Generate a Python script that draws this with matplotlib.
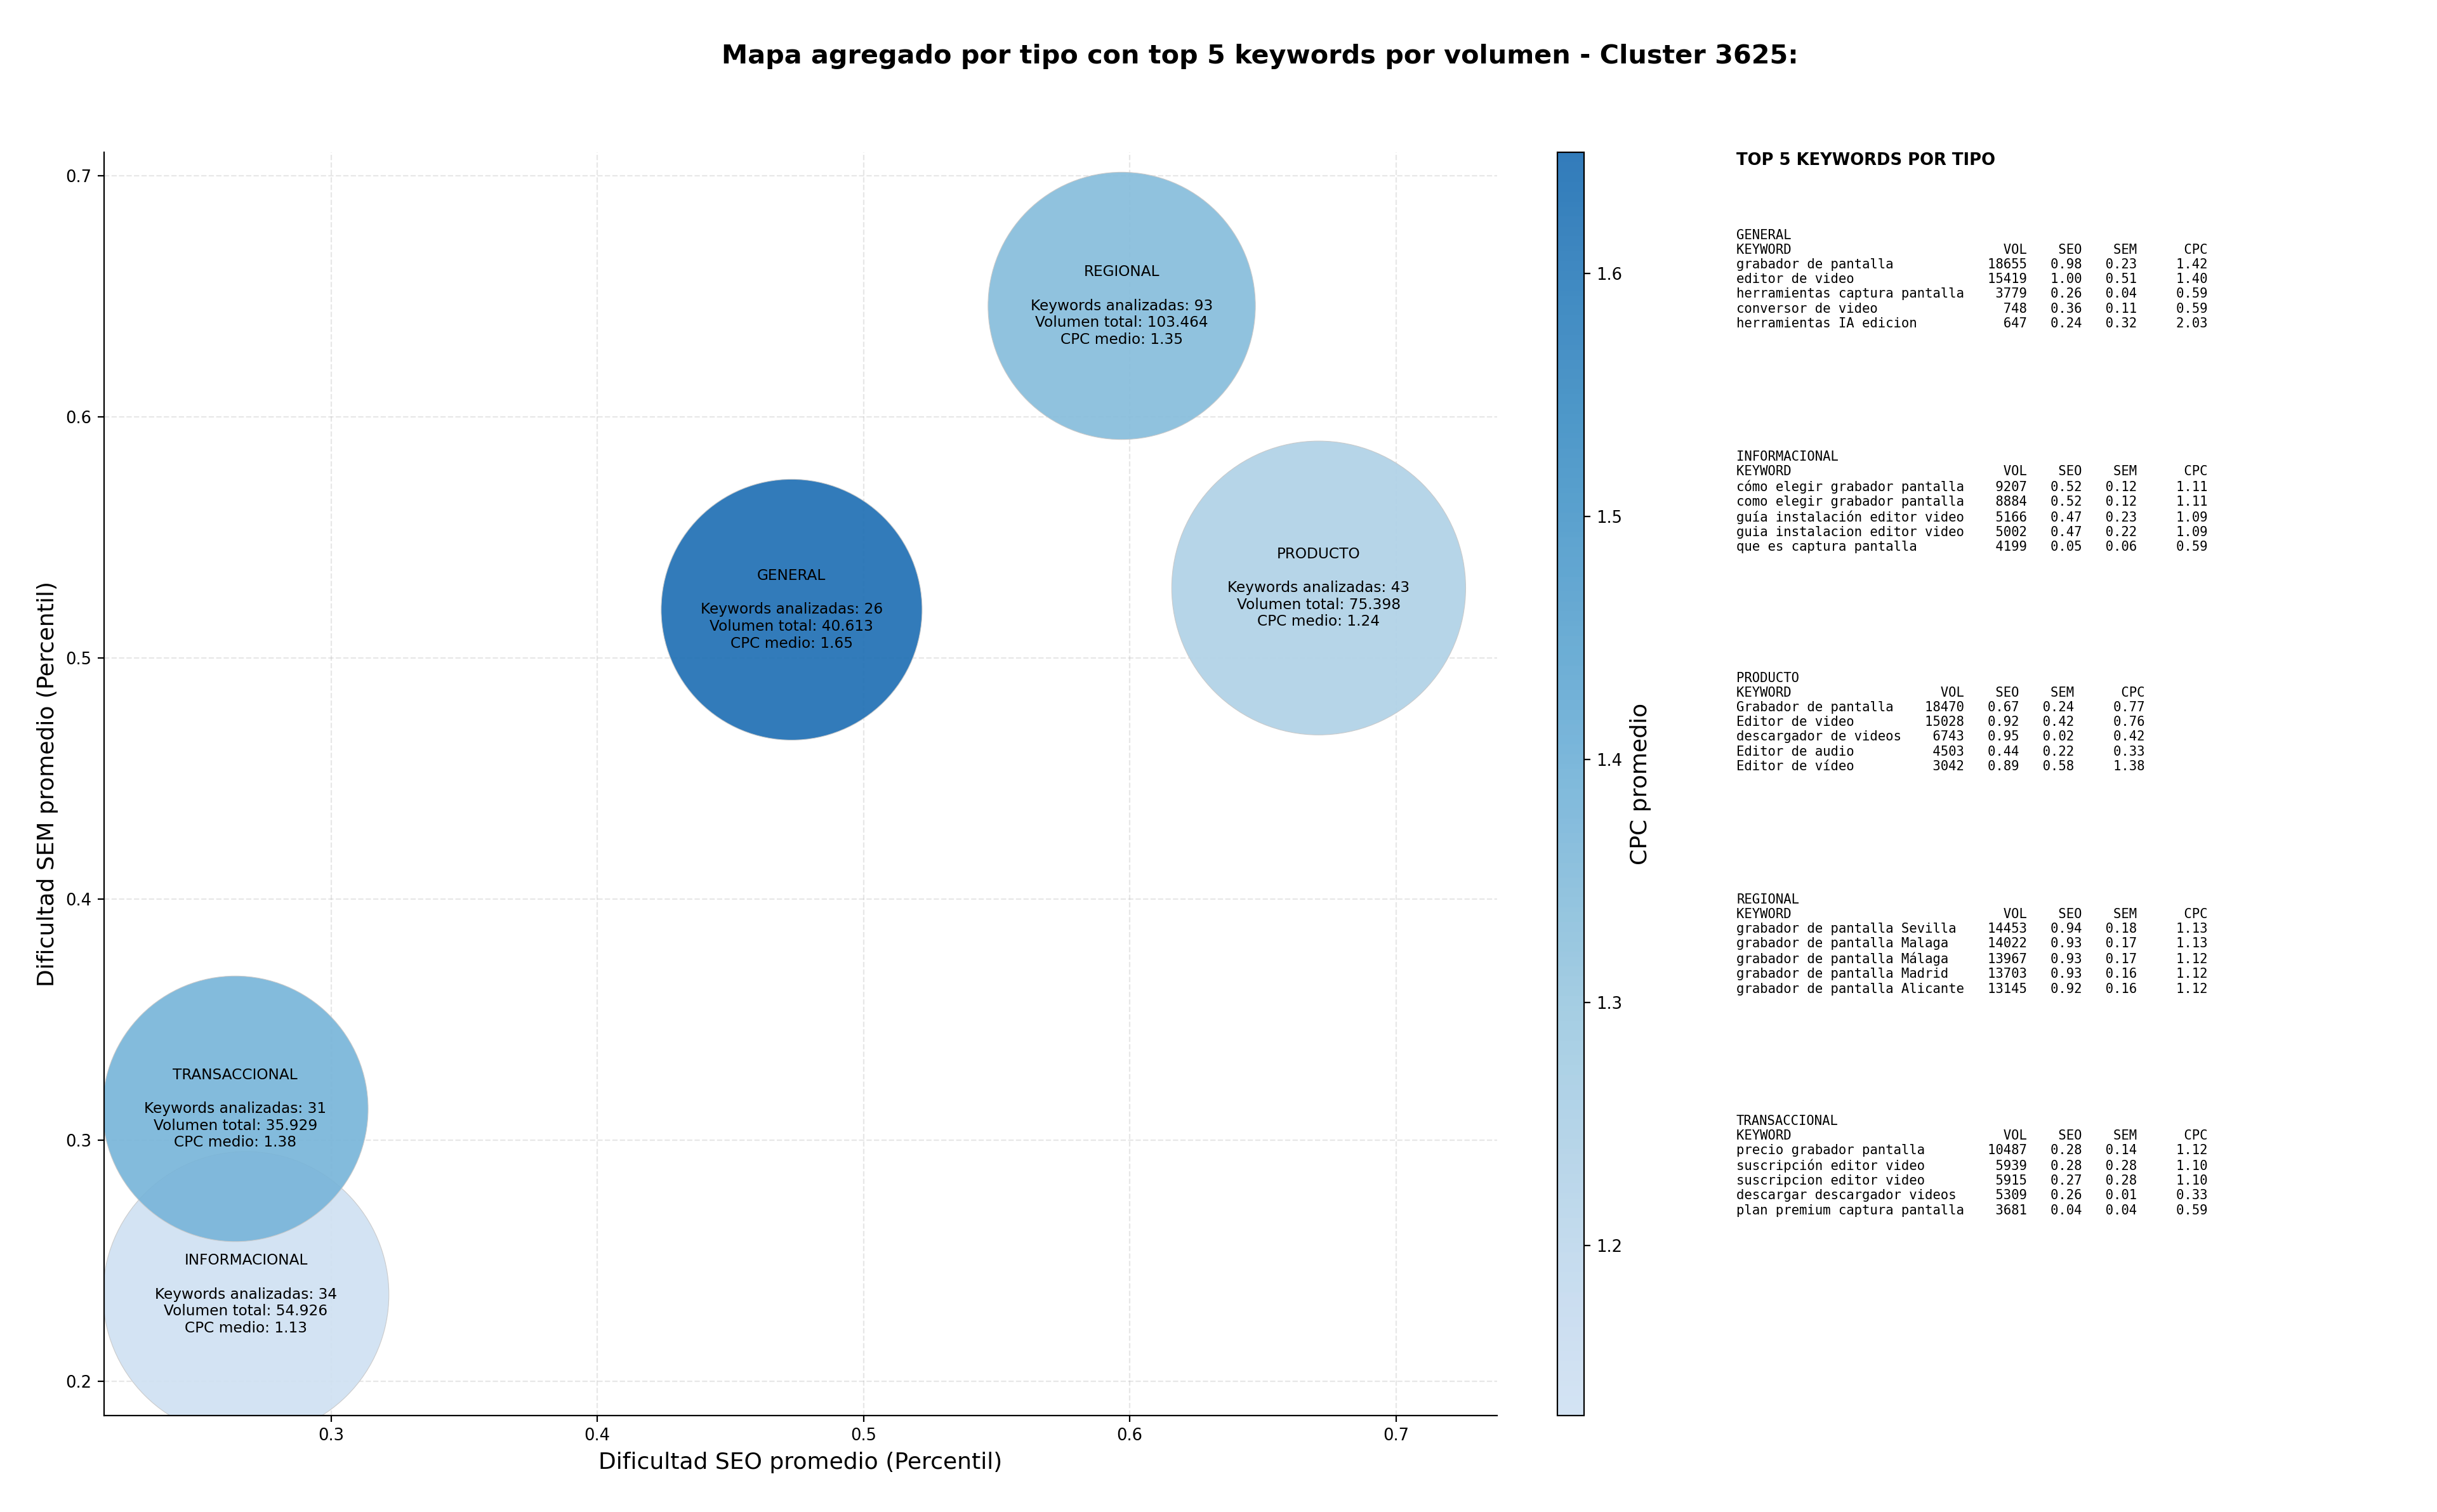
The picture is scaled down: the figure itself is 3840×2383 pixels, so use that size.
import numpy as np
import matplotlib as mpl
mpl.use('Agg')
import matplotlib.pyplot as plt
from matplotlib.colors import LinearSegmentedColormap, Normalize

# aggregated data per keyword type
tipos = ['GENERAL', 'INFORMACIONAL', 'PRODUCTO', 'REGIONAL', 'TRANSACCIONAL']
seo_avg = [0.473, 0.268, 0.671, 0.597, 0.264]
sem_avg = [0.520, 0.236, 0.529, 0.646, 0.313]
cpc_avg = [1.65, 1.13, 1.24, 1.35, 1.38]
n_keywords = [26, 34, 43, 93, 31]
vol_total = [40613, 54926, 75398, 103464, 35929]
bubble_area = [21900, 26300, 27800, 23000, 22700]

# top 5 keywords by volume: (keyword, vol, seo, sem, cpc)
top_general = [('grabador de pantalla', 18655, 0.98, 0.23, 1.42),
               ('editor de video', 15419, 1.00, 0.51, 1.40),
               ('herramientas captura pantalla', 3779, 0.26, 0.04, 0.59),
               ('conversor de video', 748, 0.36, 0.11, 0.59),
               ('herramientas IA edicion', 647, 0.24, 0.32, 2.03)]
top_informacional = [('cómo elegir grabador pantalla', 9207, 0.52, 0.12, 1.11),
                     ('como elegir grabador pantalla', 8884, 0.52, 0.12, 1.11),
                     ('guía instalación editor video', 5166, 0.47, 0.23, 1.09),
                     ('guia instalacion editor video', 5002, 0.47, 0.22, 1.09),
                     ('que es captura pantalla', 4199, 0.05, 0.06, 0.59)]
top_producto = [('Grabador de pantalla', 18470, 0.67, 0.24, 0.77),
                ('Editor de video', 15028, 0.92, 0.42, 0.76),
                ('descargador de videos', 6743, 0.95, 0.02, 0.42),
                ('Editor de audio', 4503, 0.44, 0.22, 0.33),
                ('Editor de vídeo', 3042, 0.89, 0.58, 1.38)]
top_regional = [('grabador de pantalla Sevilla', 14453, 0.94, 0.18, 1.13),
                ('grabador de pantalla Malaga', 14022, 0.93, 0.17, 1.13),
                ('grabador de pantalla Málaga', 13967, 0.93, 0.17, 1.12),
                ('grabador de pantalla Madrid', 13703, 0.93, 0.16, 1.12),
                ('grabador de pantalla Alicante', 13145, 0.92, 0.16, 1.12)]
top_transaccional = [('precio grabador pantalla', 10487, 0.28, 0.14, 1.12),
                     ('suscripción editor video', 5939, 0.28, 0.28, 1.10),
                     ('suscripcion editor video', 5915, 0.27, 0.28, 1.10),
                     ('descargar descargador videos', 5309, 0.26, 0.01, 0.33),
                     ('plan premium captura pantalla', 3681, 0.04, 0.04, 0.59)]
top_tables = [top_general, top_informacional, top_producto, top_regional,
              top_transaccional]


def fmtVol(v):
    return '{:,}'.format(v).replace(',', '.')


def blockText(tipo, rows):
    w = max(len(r[0]) for r in rows)
    lines = [tipo,
             f"{'KEYWORD':<{w}}{'VOL':>8}{'SEO':>7}{'SEM':>7}{'CPC':>9}"]
    for kw, vol, seo, sem, cpc in rows:
        lines.append(f"{kw:<{w}}{vol:>8}{seo:>7.2f}{sem:>7.2f}{cpc:>9.2f}")
    return '\n'.join(lines)


fig = plt.figure(figsize=(19.2, 11.915), dpi=200)
ax = fig.add_axes([0.0427, 0.0638, 0.5716, 0.8355])
cax = fig.add_axes([0.639, 0.0638, 0.011, 0.8355])

cmap = LinearSegmentedColormap.from_list(
    'bluesCut', plt.cm.Blues(np.linspace(0.2, 0.75, 256)))
norm = Normalize(vmin=min(cpc_avg), vmax=max(cpc_avg))

sc = ax.scatter(seo_avg, sem_avg, s=bubble_area, c=cpc_avg, cmap=cmap,
                norm=norm, alpha=0.92, edgecolors='#c8c8c8', linewidths=0.4,
                zorder=2)

for i, t in enumerate(tipos):
    label = (f"{t}\n\nKeywords analizadas: {n_keywords[i]}\n"
             f"Volumen total: {fmtVol(vol_total[i])}\nCPC medio: {cpc_avg[i]:.2f}")
    ax.text(seo_avg[i], sem_avg[i], label, ha='center', va='center',
            fontsize=8.4, zorder=3)

ax.set_xlim(0.2147, 0.738)
ax.set_ylim(0.1858, 0.7097)
ax.set_xticks([0.3, 0.4, 0.5, 0.6, 0.7])
ax.set_yticks([0.2, 0.3, 0.4, 0.5, 0.6, 0.7])
ax.tick_params(labelsize=9.3)
ax.grid(True, linestyle='--', alpha=0.3, zorder=0)
ax.set_axisbelow(True)
for s in ['top', 'right']:
    ax.spines[s].set_visible(False)
ax.set_xlabel('Dificultad SEO promedio (Percentil)', fontsize=13)
ax.set_ylabel('Dificultad SEM promedio (Percentil)', fontsize=13)

cb = fig.colorbar(sc, cax=cax)
cb.set_ticks([1.2, 1.3, 1.4, 1.5, 1.6])
cb.ax.tick_params(labelsize=9.3)
cb.set_label('CPC promedio', fontsize=13, labelpad=4)

fig.suptitle('Mapa agregado por tipo con top 5 keywords por volumen - Cluster 3625:',
             x=0.517, y=0.971, fontsize=14.9, fontweight='bold')

# top keywords text panel
fig.text(0.7125, 0.8993, 'TOP 5 KEYWORDS POR TIPO', fontsize=9.3,
         fontweight='bold', va='top', ha='left')
for i, t in enumerate(tipos):
    fig.text(0.7125, 0.8487 - i * 0.14645, blockText(t, top_tables[i]),
             family='DejaVu Sans Mono', fontsize=7.44, va='top', ha='left')

fig.savefig('out.png', dpi=200)
